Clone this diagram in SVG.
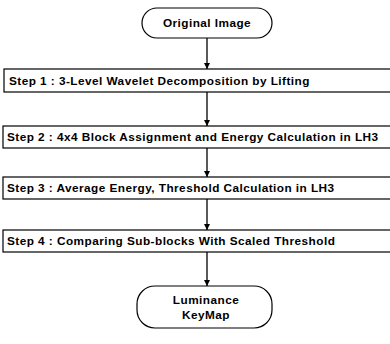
<svg xmlns="http://www.w3.org/2000/svg" width="390" height="344" viewBox="0 0 390 344">
<style>
.box{fill:#fff;stroke:#000;stroke-width:1.2}
.t{font-family:"Liberation Sans",Arial,sans-serif;font-weight:bold;font-size:11.8px;letter-spacing:0.45px;fill:#000}
.c{stroke:#000;stroke-width:1.3;fill:none}
</style>
<defs>
<marker id="ah" viewBox="0 0 10 10" refX="10" refY="5" markerWidth="6" markerHeight="8" orient="auto" markerUnits="userSpaceOnUse">
<path d="M0,0 L10,5 L0,10 z" fill="#000"/>
</marker>
</defs>
<rect width="390" height="344" fill="#fff"/>
<g id="connectors">
<line class="c" x1="207" y1="38" x2="207" y2="69" marker-end="url(#ah)"/>
<line class="c" x1="207" y1="92" x2="207" y2="126" marker-end="url(#ah)"/>
<line class="c" x1="207" y1="148" x2="207" y2="177" marker-end="url(#ah)"/>
<line class="c" x1="207" y1="199" x2="207" y2="230" marker-end="url(#ah)"/>
<line class="c" x1="207" y1="252" x2="207" y2="286" marker-end="url(#ah)"/>
</g>
<g id="start">
<rect class="box" x="142" y="8" width="130" height="30" rx="15" ry="15"/>
<text class="t" x="207" y="27" text-anchor="middle">Original Image</text>
</g>
<g id="step1">
<rect class="box" x="4" y="69" width="390" height="23"/>
<text class="t" x="9" y="84.5">Step 1 : 3-Level Wavelet Decomposition by Lifting</text>
</g>
<g id="step2">
<rect class="box" x="3" y="126" width="391" height="22"/>
<text class="t" x="7" y="141">Step 2 : 4x4 Block Assignment and Energy Calculation in LH3</text>
</g>
<g id="step3">
<rect class="box" x="3" y="177" width="391" height="22"/>
<text class="t" x="7" y="192">Step 3 : Average Energy, Threshold Calculation in LH3</text>
</g>
<g id="step4">
<rect class="box" x="3" y="230" width="391" height="22"/>
<text class="t" x="7" y="245">Step 4 : Comparing Sub-blocks With Scaled Threshold</text>
</g>
<g id="end">
<rect class="box" x="137" y="286" width="135" height="42" rx="18" ry="18"/>
<text class="t" x="206" y="304" text-anchor="middle">Luminance</text>
<text class="t" x="206" y="319" text-anchor="middle">KeyMap</text>
</g>
</svg>
